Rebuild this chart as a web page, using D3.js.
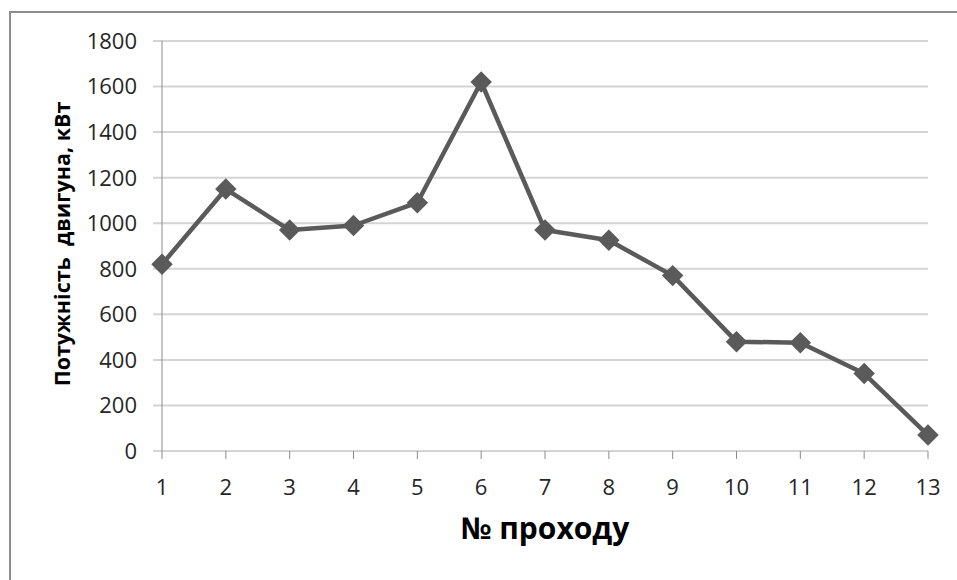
<!DOCTYPE html>
<html lang="uk">
  <head>
      <meta charset="utf-8">
      <title>Потужність двигуна</title>
      <script type="text/javascript" src="https://cdn.jsdelivr.net/npm/d3@7"></script>
      <style>
        body { margin: 0; background: #fff; }
        text { font-family: "Open Sans", sans-serif; fill: #262626; }
      </style>
  </head>
  <body>
      <script type="text/javascript">

      // data
      var passes = [1, 2, 3, 4, 5, 6, 7, 8, 9, 10, 11, 12, 13];
      var power = [820, 1150, 970, 990, 1090, 1620, 970, 925, 770, 480, 475, 340, 70];
      var yTicks = [0, 200, 400, 600, 800, 1000, 1200, 1400, 1600, 1800];
      var xTitle = "№ проходу";
      var yTitle = "Потужність  двигуна, кВт";

      var w = 957;
      var h = 580;
      var plotLeft = 162, plotRight = 928, plotTop = 41, plotBottom = 451;

      var svg = d3.select("body").append("svg").attr("width", w).attr("height", h);

      // outer frame (only top and left visible)
      svg.append("path").attr("d", "M10,580 V12 H957")
        .attr("fill", "none").attr("stroke", "#8c8c8c").attr("stroke-width", 2);

      var x = d3.scaleLinear().domain([1, 13]).range([plotLeft, plotRight]);
      var y = d3.scaleLinear().domain([0, 1800]).range([plotBottom, plotTop]);

      // gridlines
      svg.selectAll("line.grid").data(yTicks).enter().append("line")
        .attr("class", "grid")
        .attr("x1", plotLeft - 9).attr("x2", plotRight)
        .attr("y1", function(d){ return y(d); }).attr("y2", function(d){ return y(d); })
        .attr("stroke", "#d4d4d4").attr("stroke-width", 2);

      // y axis line
      svg.append("line").attr("x1", plotLeft).attr("x2", plotLeft).attr("y1", plotTop).attr("y2", plotBottom + 8)
        .attr("stroke", "#8c8c8c").attr("stroke-width", 1);

      // x ticks
      svg.selectAll("line.xtick").data(passes.slice(1)).enter().append("line")
        .attr("class", "xtick")
        .attr("x1", function(d){ return x(d); }).attr("x2", function(d){ return x(d); })
        .attr("y1", plotBottom).attr("y2", plotBottom + 8)
        .attr("stroke", "#8c8c8c").attr("stroke-width", 1);

      // y tick labels
      svg.selectAll("text.ylab").data(yTicks).enter().append("text")
        .attr("class", "ylab")
        .text(function(d){ return d; })
        .attr("x", 137).attr("y", function(d){ return y(d); })
        .attr("dy", "0.36em").attr("text-anchor", "end").attr("font-size", "22px");

      // x tick labels
      svg.selectAll("text.xlab").data(passes).enter().append("text")
        .attr("class", "xlab")
        .text(function(d){ return d; })
        .attr("x", function(d){ return x(d); }).attr("y", 487)
        .attr("dy", "0.36em").attr("text-anchor", "middle").attr("font-size", "22px");

      // axis titles
      svg.append("text").text(xTitle)
        .attr("x", (plotLeft + plotRight) / 2).attr("y", 539)
        .attr("text-anchor", "middle").attr("font-size", "30px").attr("font-weight", "bold")
        .style("fill", "#000");

      svg.append("text").text(yTitle)
        .attr("transform", "translate(70," + ((plotTop + plotBottom) / 2 - 2) + ") rotate(-90)")
        .attr("text-anchor", "middle").attr("font-size", "21.5px").attr("font-weight", "bold")
        .style("fill", "#000").style("white-space", "pre");

      // line
      var line = d3.line()
        .x(function(d, i){ return x(passes[i]); })
        .y(function(d){ return y(d); });

      svg.append("path").datum(power).attr("d", line)
        .attr("fill", "none").attr("stroke", "#5a5a5a").attr("stroke-width", 4.5)
        .attr("stroke-linejoin", "round");

      // diamond markers
      var diamond = d3.symbol().type(d3.symbolSquare).size(230);
      svg.selectAll("path.marker").data(power).enter().append("path")
        .attr("class", "marker")
        .attr("d", diamond)
        .attr("transform", function(d, i){ return "translate(" + x(passes[i]) + "," + y(d) + ") rotate(45)"; })
        .attr("fill", "#5a5a5a");

      </script>
  </body>
</html>
